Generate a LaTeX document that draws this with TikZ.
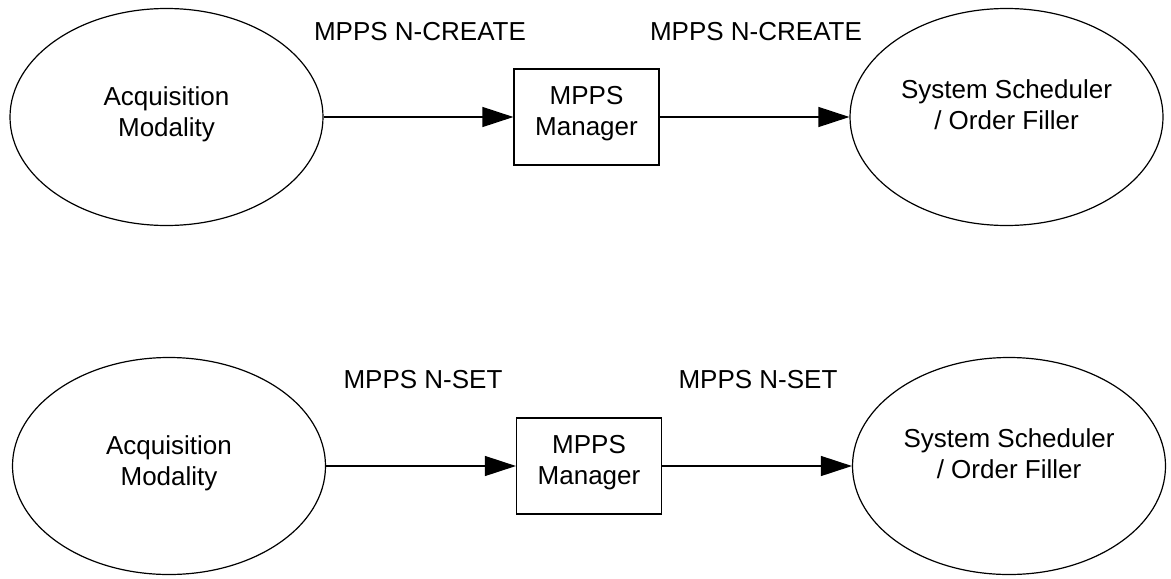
\documentclass[tikz,border=0pt]{standalone}
\usepackage{fontspec}
\setmainfont{Liberation Sans}
\usetikzlibrary{shapes.geometric, arrows.meta}

\begin{document}
\begin{tikzpicture}[x=0.5pt, y=-0.5pt, align=center, font=\fontsize{13}{15.5}\selectfont,
	main/.style = {draw, ellipse, line width=0.6pt, minimum width=156.5pt, minimum height=108.5pt, inner sep=0pt, text depth=5.7pt},
	mgr/.style = {draw, rectangle, line width=0.6pt, minimum width=72.5pt, minimum height=48pt, inner sep=0pt, text depth=5.7pt},
	msg/.style = {-{Triangle[length=15.5pt, width=10pt]}, line width=0.6pt}]
	\useasboundingbox (0,0) rectangle (1171,578);
	% N-CREATE
	\node[main] (1) at (166.5,117) {Acquisition\\Modality};
	\node[mgr] (2) at (586.5,117) {MPPS\\Manager};
	\node[main, text depth=12pt] (3) at (1006.5,117) {System Scheduler\\/ Order Filler};
	\node (4) at (420,32) {MPPS N-CREATE};
	\node (5) at (756,32) {MPPS N-CREATE};
	\draw[msg] (1) -- (2);
	\draw[msg] (2) -- (3);
	% N-SET
	\node[main] (6) at (169,466) {Acquisition\\Modality};
	\node[mgr] (7) at (589,466) {MPPS\\Manager};
	\node[main, text depth=12pt] (8) at (1009,466) {System Scheduler\\/ Order Filler};
	\node (9) at (423,380) {MPPS N-SET};
	\node (10) at (758,380) {MPPS N-SET};
	\draw[msg] (6) -- (7);
	\draw[msg] (7) -- (8);
\end{tikzpicture}
\end{document}
